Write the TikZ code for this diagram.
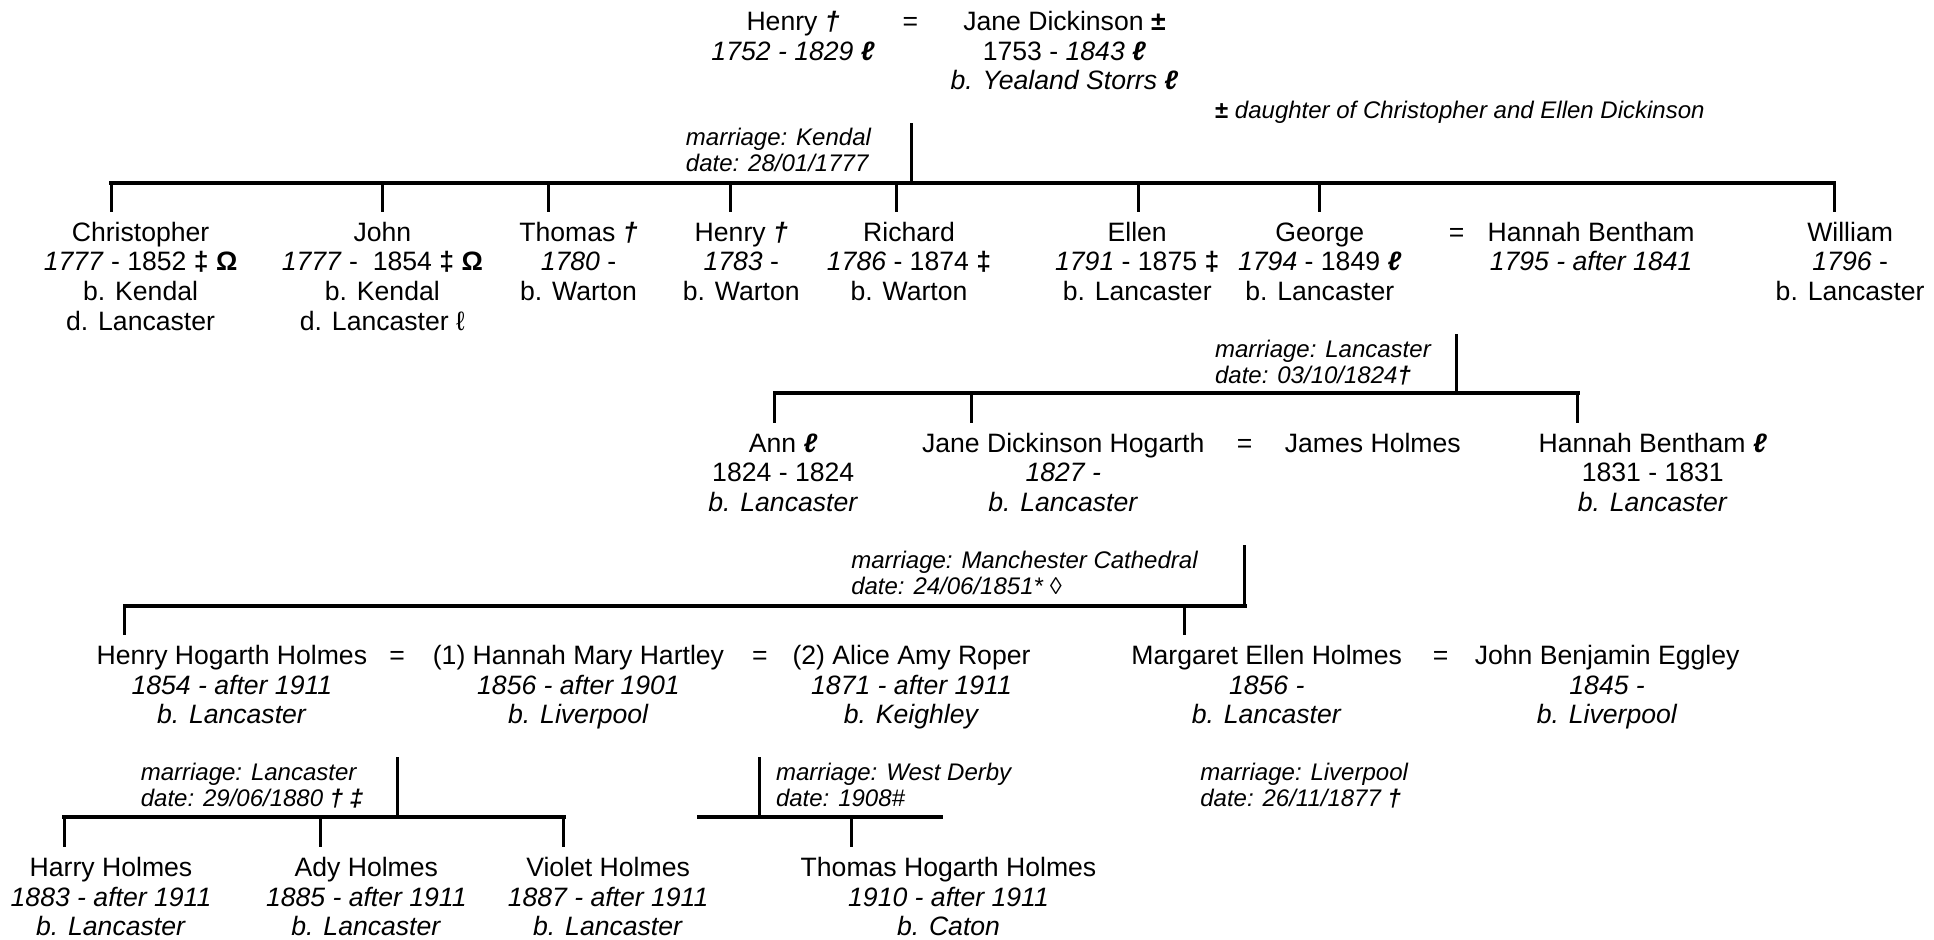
\documentclass[tikz,border=0pt]{standalone}
\usepackage{fontspec}
\setmainfont{Liberation Sans}
\newcommand{\mainsz}{\fontsize{26.6pt}{29.6pt}\selectfont}
\newcommand{\smsz}{\fontsize{24pt}{26pt}\selectfont}
\newcommand{\bi}[1]{\textbf{\textit{#1}}}
\newcommand{\pcol}[1]{\begin{tabular}[t]{@{}c@{}}#1\end{tabular}}
\newcommand{\lcol}[1]{\begin{tabular}[t]{@{}l@{}}#1\end{tabular}}
\tikzset{
  person/.style={anchor=base, inner sep=0pt, font=\mainsz},
  spouse/.style={anchor=base, inner sep=0pt, font=\mainsz},
  mlabel/.style={anchor=base west, inner sep=0pt, font=\smsz\itshape},
  bar/.style={line width=4pt, line cap=rect},
  link/.style={line width=3pt},
}
\begin{document}
\begin{tikzpicture}[x=1.2334pt, y=-1.2334pt]
\useasboundingbox (0,0) rectangle (1568,761.3);

% ---------- generation 0
\node[person] (henry0) at (643,24.7) {\pcol{Henry \bi{†}\\ \textit{1752 - 1829} \bi{ℓ}}};
\node[spouse] (eq0) at (738,24.7) {=};
\node[person] (jane0) at (863,24.7) {\pcol{Jane Dickinson \textbf{±}\\ 1753 - \textit{1843} \bi{ℓ}\\ \textit{b. Yealand Storrs} \bi{ℓ}}};
\node[mlabel] (note) at (985,96) {{\upshape\bfseries ±} daughter of Christopher and Ellen Dickinson};
\node[mlabel] (m1) at (556,118) {\lcol{marriage: Kendal\\ date: 28/01/1777}};

% ---------- generation 1
\node[person] (christopher) at (114,195.7) {\pcol{Christopher\\ \textit{1777} - 1852 \textbf{‡ Ω}\\ b. Kendal\\ d. Lancaster}};
\node[person] (john) at (310,195.7) {\pcol{John\\ \textit{1777} -\ \ 1854 \textbf{‡ Ω}\\ b. Kendal\\ d. Lancaster ℓ}};
\node[person] (thomas) at (469,195.7) {\pcol{Thomas \bi{†}\\ \textit{1780} -\\ b. Warton}};
\node[person] (henry1) at (601,195.7) {\pcol{Henry \bi{†}\\ \textit{1783} -\\ b. Warton}};
\node[person] (richard) at (737,195.7) {\pcol{Richard\\ \textit{1786} - 1874 \textbf{‡}\\ b. Warton}};
\node[person] (ellen) at (922,195.7) {\pcol{Ellen\\ \textit{1791} - 1875 \textbf{‡}\\ b. Lancaster}};
\node[person] (george) at (1070,195.7) {\pcol{George\\ \textit{1794} - 1849 \bi{ℓ}\\ b. Lancaster}};
\node[spouse] (eq1) at (1181,195.7) {=};
\node[person] (hannah1) at (1290,195.7) {\pcol{Hannah Bentham\\ \textit{1795 - after 1841}}};
\node[person] (william) at (1500,195.7) {\pcol{William\\ \textit{1796} -\\ b. Lancaster}};
\node[mlabel] (m2) at (985,290) {\lcol{marriage: Lancaster\\ date: 03/10/1824\textbf{†}}};

% ---------- generation 2
\node[person] (ann) at (635,366.7) {\pcol{Ann \bi{ℓ}\\ 1824 - 1824\\ \textit{b. Lancaster}}};
\node[person] (jane2) at (862,366.7) {\pcol{Jane Dickinson Hogarth\\ \textit{1827 -}\\ \textit{b. Lancaster}}};
\node[spouse] (eq2) at (1009,366.7) {=};
\node[person] (james) at (1113,366.7) {James Holmes};
\node[person] (hannah2) at (1340,366.7) {\pcol{Hannah Bentham \bi{ℓ}\\ 1831 - 1831\\ \textit{b. Lancaster}}};
\node[mlabel] (m3) at (690,461) {\lcol{marriage: Manchester Cathedral\\ date: 24/06/1851* ◊}};

% ---------- generation 3
\node[person] (hhh) at (188,538.7) {\pcol{Henry Hogarth Holmes\\ \textit{1854 - after 1911}\\ \textit{b. Lancaster}}};
\node[spouse] (eq3) at (322,538.7) {=};
\node[person] (hmh) at (469,538.7) {\pcol{(1) Hannah Mary Hartley\\ \textit{1856 - after 1901}\\ \textit{b. Liverpool}}};
\node[spouse] (eq4) at (616,538.7) {=};
\node[person] (aar) at (739,538.7) {\pcol{(2) Alice Amy Roper\\ \textit{1871 - after 1911}\\ \textit{b. Keighley}}};
\node[person] (meh) at (1027,538.7) {\pcol{Margaret Ellen Holmes\\ \textit{1856 -}\\ \textit{b. Lancaster}}};
\node[spouse] (eq5) at (1168,538.7) {=};
\node[person] (jbe) at (1303,538.7) {\pcol{John Benjamin Eggley\\ \textit{1845 -}\\ \textit{b. Liverpool}}};
\node[mlabel] (m4) at (114,633) {\lcol{marriage: Lancaster\\ date: 29/06/1880 \textbf{† ‡}}};
\node[mlabel] (m5) at (629,633) {\lcol{marriage: West Derby\\ date: 1908\#}};
\node[mlabel] (m6) at (973,633) {\lcol{marriage: Liverpool\\ date: 26/11/1877 \textbf{†}}};

% ---------- generation 4
\node[person] (harry) at (90,710.7) {\pcol{Harry Holmes\\ \textit{1883 - after 1911}\\ \textit{b. Lancaster}}};
\node[person] (ady) at (297,710.7) {\pcol{Ady Holmes\\ \textit{1885 - after 1911}\\ \textit{b. Lancaster}}};
\node[person] (violet) at (493,710.7) {\pcol{Violet Holmes\\ \textit{1887 - after 1911}\\ \textit{b. Lancaster}}};
\node[person] (thh) at (769,710.7) {\pcol{Thomas Hogarth Holmes\\ \textit{1910 - after 1911}\\ \textit{b. Caton}}};

% ---------- family 1
\coordinate (u1) at (739,100); \coordinate (j1) at (739,148);
\coordinate (b1l) at (90,148); \coordinate (b1r) at (1487,148);
\coordinate (c11) at (90,172);  \coordinate (c12) at (310,172);
\coordinate (c13) at (445,172); \coordinate (c14) at (592,172);
\coordinate (c15) at (727,172); \coordinate (c16) at (923,172);
\coordinate (c17) at (1070,172); \coordinate (c18) at (1487,172);
\draw[link] (u1) -- (j1);
\draw[bar] (b1l) -- (b1r);
\foreach \c in {c11,c12,c13,c14,c15,c16,c17,c18} \draw[link] (\c |- j1) -- (\c);

% ---------- family 2
\coordinate (u2) at (1181,271); \coordinate (j2) at (1181,319);
\coordinate (b2l) at (628,319); \coordinate (b2r) at (1279,319);
\coordinate (c21) at (628,343); \coordinate (c22) at (788,343); \coordinate (c23) at (1279,343);
\draw[link] (u2) -- (j2);
\draw[bar] (b2l) -- (b2r);
\foreach \c in {c21,c22,c23} \draw[link] (\c |- j2) -- (\c);

% ---------- family 3
\coordinate (u3) at (1009,442); \coordinate (j3) at (1009,491);
\coordinate (b3l) at (101,491); \coordinate (b3r) at (1009,491);
\coordinate (c31) at (101,515); \coordinate (c32) at (960,515);
\draw[link] (u3) -- (j3);
\draw[bar] (b3l) -- (b3r);
\foreach \c in {c31,c32} \draw[link] (\c |- j3) -- (\c);

% ---------- family 4
\coordinate (u4) at (322,614); \coordinate (j4) at (322,662);
\coordinate (b4l) at (52,662); \coordinate (b4r) at (457,662);
\coordinate (c41) at (52,687); \coordinate (c42) at (260,687); \coordinate (c43) at (457,687);
\draw[link] (u4) -- (j4);
\draw[bar] (b4l) -- (b4r);
\foreach \c in {c41,c42,c43} \draw[link] (\c |- j4) -- (\c);

% ---------- family 5
\coordinate (u5) at (616,614); \coordinate (j5) at (616,662);
\coordinate (b5l) at (567,662); \coordinate (b5r) at (763,662);
\coordinate (c51) at (690,687);
\draw[link] (u5) -- (j5);
\draw[bar] (b5l) -- (b5r);
\draw[link] (c51 |- j5) -- (c51);
\end{tikzpicture}
\end{document}
